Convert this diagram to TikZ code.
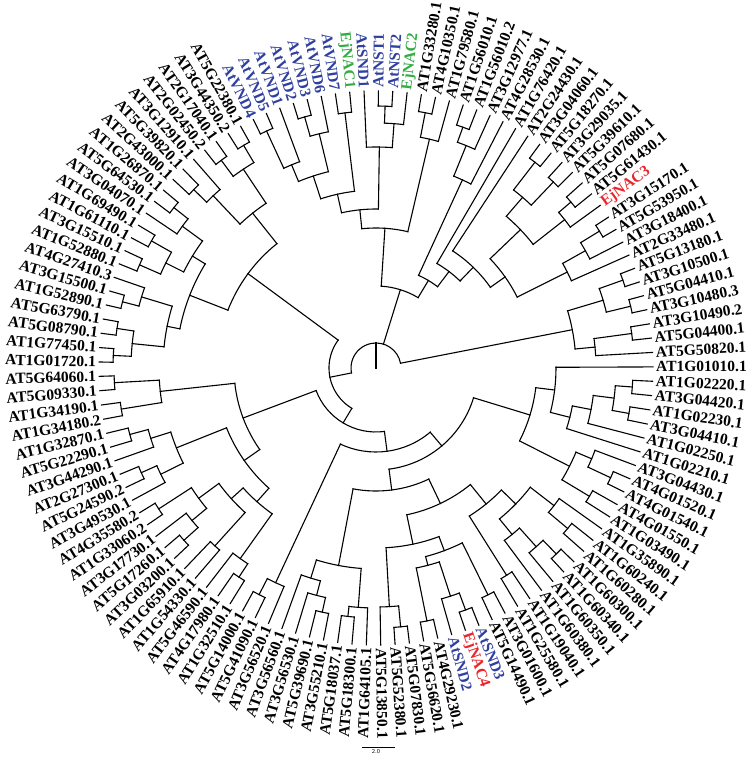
\documentclass[tikz,border=0pt]{standalone}
\usepackage{fontspec}
\setmainfont{Liberation Serif}
\definecolor{vndblue}{RGB}{48,64,160}
\definecolor{ejgreen}{RGB}{52,172,68}
\definecolor{ejred}{RGB}{232,38,44}
\newcommand{\clade}[2]{%
  \foreach \p/\q [count=\k] in {#2}{%
    \pgfmathsetmacro\cang{2.975*\p-91.975}
    \draw[branch] (\cang:#1pt) -- (\cang:\q pt);
    \ifnum\k=1 \xdef\pfirst{\cang}\fi
    \xdef\plast{\cang}
  }%
  \draw[branch] (\pfirst:#1pt) arc[start angle=\pfirst, end angle=\plast, radius=#1pt];
}

\begin{document}
\begin{tikzpicture}[x=1pt,y=1pt,
    branch/.style={line width=1.1pt,line cap=rect},
    leaf/.style={inner sep=0pt,font=\fontsize{15.5}{16}\selectfont\bfseries},
    barlabel/.style={inner sep=1pt,font=\sffamily\fontsize{6}{7}\selectfont}]
\useasboundingbox (-376,-393) rectangle (376,368);

\clade{262}{37/277,38/277}
\clade{262}{35/277,36/277}
\clade{237}{35.5/262,37.5/262}
\clade{258}{33/277,34/277}
\clade{220}{32/277,33.5/258}
\clade{200}{32.75/220,36.5/237}

\clade{260}{57/277,58/277}
\clade{235}{56/277,57.5/260}
\clade{262}{60/277,61/277}
\clade{245}{59/277,60.5/262}
\clade{221}{59.75/245,62/277}
\clade{257}{63/277,64/277}
\clade{261}{66/277,67/277}
\clade{241}{65/277,66.5/261}
\clade{261}{69/277,70/277}
\clade{220}{68/277,69.5/261}
\clade{202}{65.75/241,68.75/220}
\clade{178}{63.5/257,67.25/202}
\clade{159}{60.875/221,65.375/178}
\clade{140}{56.75/235,63.125/159}
\clade{256}{54/277,55/277}
\clade{240}{53/277,54.5/256}
\clade{207}{52/277,53.75/240}
\clade{262}{41/277,42/277}
\clade{240}{40/277,41.5/262}
\clade{214}{39/277,40.75/240}
\clade{256}{44/277,45/277}
\clade{240}{43/277,44.5/256}
\clade{257}{46/277,47/277}
\clade{260}{48/277,49/277}
\clade{225}{46.5/257,48.5/260}
\clade{200}{43.75/240,47.5/225}
\clade{158}{39.875/214,45.625/200}
\clade{140}{42.75/158,50/277}
\clade{121}{46.375/140,51/277}
\clade{102}{48.6875/121,52.875/207}
\clade{82}{50.78125/102,59.9375/140}

\clade{259}{71/277,72/277}
\clade{259}{73/277,74/277}
\clade{239}{71.5/259,73.5/259}
\clade{255}{76/277,77/277}
\clade{237}{75/277,76.5/255}
\clade{198}{72.5/239,75.75/237}
\clade{258}{78/277,79/277}
\clade{240}{78.5/258,80/277}
\clade{258}{81/277,82/277}
\clade{258}{83/277,84/277}
\clade{235}{81.5/258,83.5/258}
\clade{215}{79.25/240,82.5/235}
\clade{262}{86/277,87/277}
\clade{245}{85/277,86.5/262}
\clade{262}{88/277,89/277}
\clade{263}{90/277,91/277}
\clade{245}{88.5/262,90.5/263}
\clade{213}{85.75/245,89.5/245}
\clade{200}{80.875/215,87.625/213}
\clade{159}{74.125/198,84.25/200}
\clade{262}{92/277,93/277}
\clade{258}{94/277,95/277}
\clade{217}{92.5/262,94.5/258}
\clade{255}{96/277,97/277}
\clade{236}{96.5/255,98/277}
\clade{257}{99/277,100/277}
\clade{240}{99.5/257,101/277}
\clade{215}{97.25/236,100.25/240}
\clade{259}{102/277,103/277}
\clade{258}{105/277,106/277}
\clade{239}{104/277,105.5/258}
\clade{220}{102.5/259,104.75/239}
\clade{240}{107/277,108/277}
\clade{195}{103.625/220,107.5/240}
\clade{250}{110/277,111/277}
\clade{234}{109/277,110.5/250}
\clade{179}{105.5625/195,109.75/234}
\clade{161}{98.75/215,107.656/179}
\clade{142}{93.5/217,103.203/161}

\clade{255}{112/277,113/277}
\clade{237}{112.5/255,114/277}
\clade{250}{117/277,118/277}
\clade{235}{116/277,117.5/250}
\clade{220}{115/277,116.75/235}
\clade{250}{119/277,120/277}
\clade{240}{119.5/250,121/277}
\clade{201}{115.875/220,120.25/240}
\clade{260}{123/277,124/277}
\clade{239}{122/277,123.5/260}
\clade{258}{125/277,126/277}
\clade{258}{128/277,129/277}
\clade{240}{127/277,128.5/258}
\clade{204}{125.5/258,127.75/240}
\clade{253}{130/277,131/277}
\clade{195}{126.625/204,130.5/253}
\clade{180}{122.75/239,128.5625/195}
\clade{245}{132/277,133/277}
\clade{259}{136/277,137/277}
\clade{240}{135/277,136.5/259}
\clade{215}{134/277,135.75/240}
\clade{250}{138/277,139/277}
\clade{225}{138.5/250,140/277}
\clade{195}{134.875/215,139.25/225}
\clade{175}{132.5/245,137.0625/195}
\clade{150}{125.656/180,134.781/175}
\clade{123}{118.0625/201,130.219/150}
\clade{259}{143/277,144/277}
\clade{234}{143.5/259,145/277}
\clade{249}{141/277,142/277}
\clade{217}{141.5/249,144.25/234}
\clade{257}{148/277,149/277}
\clade{257}{150/277,151/277}
\clade{240}{148.5/257,150.5/257}
\clade{219}{147/277,149.5/240}
\clade{200}{146/277,148.25/219}
\clade{180}{147.125/200,152/277}
\clade{161}{142.875/217,149.5625/180}
\clade{102}{124.141/123,146.219/161}
\clade{84}{113.25/237,135.18/102}
\clade{64}{98.352/142,124.215/84}
\clade{47}{79.1875/159,111.28/64}
\clade{25}{34.625/200,55.359/82,95.23/47}
\draw[branch] (0,0) -- (90:25pt);

\foreach \lab/\col [count=\i] in {
    AT5G13850.1/black,AT5G52380.1/black,AT5G07830.1/black,AT5G56620.1/black,
    AT4G29230.1/black,AtSND2/vndblue,EjNAC4/ejred,AtSND3/vndblue,
    AT5G14490.1/black,AT3G01600.1/black,AT1G25580.1/black,AT1G19040.1/black,
    AT1G60380.1/black,AT1G60350.1/black,AT1G60340.1/black,AT1G60300.1/black,
    AT1G60280.1/black,AT1G60240.1/black,AT1G35890.1/black,AT1G03490.1/black,
    AT4G01550.1/black,AT4G01540.1/black,AT4G01520.1/black,AT3G04430.1/black,
    AT1G02210.1/black,AT1G02250.1/black,AT3G04410.1/black,AT1G02230.1/black,
    AT3G04420.1/black,AT1G02220.1/black,AT1G01010.1/black,AT5G50820.1/black,
    AT5G04400.1/black,AT3G10490.2/black,AT3G10480.3/black,AT5G04410.1/black,
    AT3G10500.1/black,AT5G13180.1/black,AT2G33480.1/black,AT3G18400.1/black,
    AT5G53950.1/black,AT3G15170.1/black,EjNAC3/ejred,AT5G61430.1/black,
    AT5G07680.1/black,AT5G39610.1/black,AT3G29035.1/black,AT5G18270.1/black,
    AT3G04060.1/black,AT2G24430.1/black,AT1G76420.1/black,AT4G28530.1/black,
    AT3G12977.1/black,AT1G56010.2/black,AT1G56010.1/black,AT1G79580.1/black,
    AT4G10350.1/black,AT1G33280.1/black,EjNAC2/ejgreen,AtNST2/vndblue,
    AtNST1/vndblue,AtSND1/vndblue,EjNAC1/ejgreen,AtVND7/vndblue,
    AtVND6/vndblue,AtVND3/vndblue,AtVND2/vndblue,AtVND1/vndblue,
    AtVND5/vndblue,AtVND4/vndblue,AT5G22380.1/black,AT3G44350.2/black,
    AT2G17040.1/black,AT2G02450.2/black,AT3G12910.1/black,AT5G39820.1/black,
    AT2G43000.1/black,AT1G26870.1/black,AT5G64530.1/black,AT3G04070.1/black,
    AT1G69490.1/black,AT1G61110.1/black,AT3G15510.1/black,AT1G52880.1/black,
    AT4G27410.3/black,AT3G15500.1/black,AT1G52890.1/black,AT5G63790.1/black,
    AT5G08790.1/black,AT1G77450.1/black,AT1G01720.1/black,AT5G64060.1/black,
    AT5G09330.1/black,AT1G34190.1/black,AT1G34180.2/black,AT1G32870.1/black,
    AT5G22290.1/black,AT3G44290.1/black,AT2G27300.1/black,AT5G24590.2/black,
    AT3G49530.1/black,AT4G35580.2/black,AT1G33060.2/black,AT3G17730.1/black,
    AT5G17260.1/black,AT3G03200.1/black,AT1G65910.1/black,AT1G54330.1/black,
    AT5G46590.1/black,AT4G17980.1/black,AT1G32510.1/black,AT5G14000.1/black,
    AT5G41090.1/black,AT3G56520.1/black,AT3G56560.1/black,AT3G56530.1/black,
    AT5G39690.1/black,AT3G55210.1/black,AT5G18037.1/black,AT5G18300.1/black,
    AT1G64105.1/black}{
  \pgfmathsetmacro\la{2.975*\i-91.975}
  \pgfmathsetmacro\lr{\la+180}
  \pgfmathtruncatemacro\flip{and(\la>90,\la<270)}
  \ifnum\flip=1
    \node[leaf,text=\col,anchor=east,rotate=\lr] (l\i) at (\la:280pt) {\lab};
  \else
    \node[leaf,text=\col,anchor=west,rotate=\la] (l\i) at (\la:280pt) {\lab};
  \fi
}

\coordinate (bar0) at (-14,-379);
\coordinate (bar1) at (19,-379);
\draw[line width=0.6pt] (bar0) -- (bar1);
\node[barlabel,below=1pt] (barlab) at (0,-379) {2.0};
\end{tikzpicture}
\end{document}
